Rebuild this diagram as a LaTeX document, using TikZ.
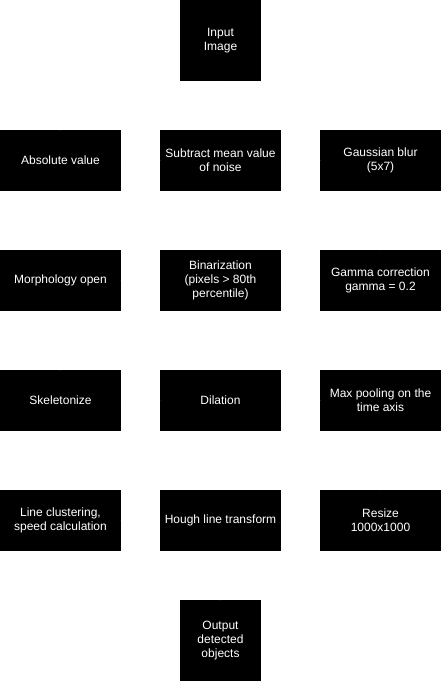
\documentclass[tikz,border=0pt]{standalone}
\usepackage{fontspec}
\setmainfont{Liberation Sans}
\usetikzlibrary{arrows.meta}
\begin{document}
\begin{tikzpicture}[x=1pt,y=-1pt,
  box/.style={fill=black,draw=black,text=white,inner sep=0pt,align=center,
    minimum width=120pt,minimum height=60pt,font=\fontsize{12}{14}\selectfont},
  sqbox/.style={box,minimum width=80pt,minimum height=80pt},
  link/.style={draw=white,line width=1pt,-{Triangle[length=6pt,width=6pt]}}]
\useasboundingbox (0,0) rectangle (441,682);
\node[sqbox] (in) at (220.5,40.5) {Input\\Image};
\node[box] (abs) at (60.5,160.5) {Absolute value};
\node[box] (sub) at (220.5,160.5) {Subtract mean value\\of noise};
\node[box] (gau) at (380.5,160.5) {Gaussian blur\\(5x7)};
\node[box] (mor) at (60.5,280.5) {Morphology open};
\node[box] (bin) at (220.5,280.5) {Binarization\\(pixels > 80th\\percentile)};
\node[box] (gam) at (380.5,280.5) {Gamma correction\\gamma = 0.2};
\node[box] (ske) at (60.5,400.5) {Skeletonize};
\node[box] (dil) at (220.5,400.5) {Dilation};
\node[box] (max) at (380.5,400.5) {Max pooling on the\\time axis};
\node[box] (lin) at (60.5,520.5) {Line clustering,\\speed calculation};
\node[box] (hou) at (220.5,520.5) {Hough line transform};
\node[box] (res) at (380.5,520.5) {Resize\\1000x1000};
\node[sqbox] (out) at (220.5,640.5) {Output\\detected\\objects};
\coordinate (c1) at (220.5,105);
\coordinate (c2) at (60.5,105);
\coordinate (c3) at (60.5,575);
\coordinate (c4) at (220.5,575);
\draw[link] (in.south) -- (c1) -- (c2) -- (abs.north);
\draw[link] (abs) -- (sub);
\draw[link] (sub) -- (gau);
\draw[link] (gau) -- (gam);
\draw[link] (gam) -- (bin);
\draw[link] (bin) -- (mor);
\draw[link] (mor) -- (ske);
\draw[link] (ske) -- (dil);
\draw[link] (dil) -- (max);
\draw[link] (max) -- (res);
\draw[link] (res) -- (hou);
\draw[link] (hou) -- (lin);
\draw[link] (lin.south) -- (c3) -- (c4) -- (out.north);
\end{tikzpicture}
\end{document}
